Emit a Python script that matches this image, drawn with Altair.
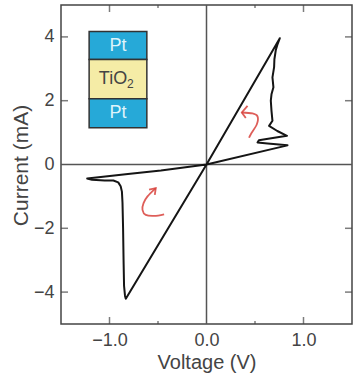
import altair as alt
import pandas as pd

# ---- data ----
curve_v = [0.0, 0.756, 0.73, 0.714, 0.70, 0.697, 0.68, 0.69, 0.67, 0.663, 0.67, 0.68,
           0.645, 0.73, 0.83, 0.70, 0.54, 0.526, 0.63, 0.835, 0.0,
           -0.47, -0.81, -1.23, -1.18, -1.05, -0.96, -0.91, -0.885, -0.872, -0.866,
           -0.86, -0.855, -0.85, -0.84, -0.832, 0.0]
curve_i = [0.0, 3.96, 3.75, 3.58, 3.30, 3.05, 2.73, 2.42, 2.20, 2.00, 1.68, 1.37,
           1.21, 1.05, 0.90, 0.84, 0.76, 0.69, 0.66, 0.60, 0.0,
           -0.19, -0.30, -0.44, -0.48, -0.50, -0.50, -0.56, -0.68, -0.85, -1.20,
           -2.00, -3.00, -3.80, -4.12, -4.21, 0.0]

arrow_id = ["r_head"] * 3 + ["l_head"] * 3
arrow_head_v = [0.423, 0.364, 0.405, -0.592, -0.523, -0.533]
arrow_head_i = [1.84, 1.63, 1.46, -0.79, -0.74, -0.95]

body_id = ["r_body"] * 6 + ["l_body"] * 7
body_v = [0.364, 0.474, 0.526, 0.519, 0.457, 0.439,
          -0.523, -0.608, -0.649, -0.66, -0.626, -0.54, -0.437]
body_i = [1.63, 1.60, 1.51, 1.26, 0.95, 0.84,
          -0.74, -1.0, -1.21, -1.42, -1.58, -1.61, -1.56]

layer_names = ["Pt", "TiO", "Pt"]
layer_sub = ["", "2", ""]
layer_v0 = [-1.21, -1.21, -1.21]
layer_v1 = [-0.615, -0.615, -0.615]
layer_top = [4.17, 3.29, 2.06]
layer_bot = [3.29, 2.06, 1.15]
layer_fill = ["#26a9d8", "#f5eca6", "#26a9d8"]
layer_text = ["#dff4fb", "#444444", "#dff4fb"]

x_ticks = [-1.0, 0.0, 1.0]
y_ticks = [-4, -2, 0, 2, 4]
x_minor = [-0.5, 0.5]
y_major = [-4, -2, 2, 4]

W, H = 291, 319
FONT = "Liberation Sans"
GREY = "#444444"

x_scale = alt.Scale(domain=[-1.5, 1.5], nice=False, zero=False)
y_scale = alt.Scale(domain=[-5, 5], nice=False, zero=False)

curve = pd.DataFrame({"V": curve_v, "I": curve_i, "k": list(range(len(curve_v)))})
heads = pd.DataFrame({"V": arrow_head_v, "I": arrow_head_i, "g": arrow_id,
                      "k": list(range(len(arrow_id)))})
bodies = pd.DataFrame({"V": body_v, "I": body_i, "g": body_id,
                       "k": list(range(len(body_id)))})
layers = pd.DataFrame({"V": layer_v0, "V2": layer_v1, "I": layer_top, "I2": layer_bot,
                       "fill": layer_fill, "name": layer_names, "sub": layer_sub,
                       "tc": layer_text,
                       "Im": [(a + b) / 2 for a, b in zip(layer_top, layer_bot)]})

xa = alt.Axis(values=x_ticks, format=".1f", title="Voltage (V)", grid=False,
              domain=False, ticks=False, tickSize=0, labelPadding=7,
              labelFontSize=18, labelColor=GREY, labelFont=FONT,
              titleFontSize=20, titleColor=GREY, titleFont=FONT,
              titleFontWeight="normal", titleBaseline="alphabetic", titleY=44)
ya = alt.Axis(values=y_ticks, format="d", title="Current (mA)", grid=False,
              domain=False, ticks=False, tickSize=0, labelPadding=7,
              labelFontSize=18, labelColor=GREY, labelFont=FONT,
              titleFontSize=21, titleColor=GREY, titleFont=FONT,
              titleFontWeight="normal", titleBaseline="alphabetic",
              titleAngle=270, titleX=-34, titleY=160)

X = alt.X("V:Q", scale=x_scale, axis=xa)
Y = alt.Y("I:Q", scale=y_scale, axis=ya)

line = alt.Chart(curve).mark_line(color="#151515", strokeWidth=2, strokeJoin="round").encode(
    x=X, y=Y, order="k:Q")

zero_v = alt.Chart(pd.DataFrame({"V": [0.0]})).mark_rule(color="#555555", strokeWidth=1.5).encode(
    x=alt.X("V:Q", scale=x_scale))
zero_h = alt.Chart(pd.DataFrame({"I": [0.0]})).mark_rule(color="#555555", strokeWidth=1.5).encode(
    y=alt.Y("I:Q", scale=y_scale))

def xtick(vals, size, ypix):
    return alt.Chart(pd.DataFrame({"V": vals})).mark_tick(
        orient="vertical", size=size, thickness=1.5, color=GREY).encode(
        x=alt.X("V:Q", scale=x_scale), y=alt.value(ypix))

def ytick(vals, size, xpix):
    return alt.Chart(pd.DataFrame({"I": vals})).mark_tick(
        orient="horizontal", size=size, thickness=1.5, color=GREY).encode(
        y=alt.Y("I:Q", scale=y_scale), x=alt.value(xpix))

ticks = [
    xtick([-1.0, 1.0], 7, H - 3.5), xtick(x_minor, 3, H - 1.5),
    xtick([-1.0, 1.0], 7, 3.5), xtick(x_minor, 3, 1.5),
    ytick(y_major, 7, 3.5), ytick(y_major, 7, W - 3.5),
]

rects = alt.Chart(layers).mark_rect(stroke="#333333", strokeWidth=1.5).encode(
    x=alt.X("V:Q", scale=x_scale), x2="V2:Q",
    y=alt.Y("I:Q", scale=y_scale), y2="I2:Q",
    fill=alt.Fill("fill:N", scale=None))

labels = alt.Chart(layers).mark_text(font=FONT, fontSize=18, baseline="middle",
                                     align="center").encode(
    x=alt.X("mid:Q", scale=x_scale), y=alt.Y("Im:Q", scale=y_scale),
    text="name:N", color=alt.Color("tc:N", scale=None)).transform_calculate(
    mid="(datum.V + datum.V2) / 2").transform_filter("datum.sub == ''")

tio = alt.Chart(layers).mark_text(font=FONT, fontSize=18, baseline="middle",
                                  align="center", dx=-5).encode(
    x=alt.X("mid:Q", scale=x_scale), y=alt.Y("Im:Q", scale=y_scale),
    text="name:N", color=alt.Color("tc:N", scale=None)).transform_calculate(
    mid="(datum.V + datum.V2) / 2").transform_filter("datum.sub != ''")

sub2 = alt.Chart(layers).mark_text(font=FONT, fontSize=12, baseline="middle",
                                   align="left", dx=9, dy=5).encode(
    x=alt.X("mid:Q", scale=x_scale), y=alt.Y("Im:Q", scale=y_scale),
    text="sub:N", color=alt.Color("tc:N", scale=None)).transform_calculate(
    mid="(datum.V + datum.V2) / 2").transform_filter("datum.sub != ''")

red = "#d8423c"
head_l = alt.Chart(heads).mark_line(color=red, strokeWidth=1.8, opacity=0.85).encode(
    x=alt.X("V:Q", scale=x_scale), y=alt.Y("I:Q", scale=y_scale),
    detail="g:N", order="k:Q")
body_l = alt.Chart(bodies).mark_line(color=red, strokeWidth=1.8, opacity=0.85,
                                     interpolate="cardinal").encode(
    x=alt.X("V:Q", scale=x_scale), y=alt.Y("I:Q", scale=y_scale),
    detail="g:N", order="k:Q")

chart = alt.layer(zero_v, zero_h, line, *ticks, rects, labels, tio, sub2,
                  head_l, body_l).resolve_scale(
    x="shared", y="shared").properties(
    width=W, height=H,
    autosize=alt.AutoSizeParams(type="none"),
    padding={"left": 61, "top": 5, "right": 5, "bottom": 50},
    background="white",
).configure_view(stroke=GREY, strokeWidth=1.5)

chart.save("out.html", embed_options={"renderer": "svg", "actions": False})
